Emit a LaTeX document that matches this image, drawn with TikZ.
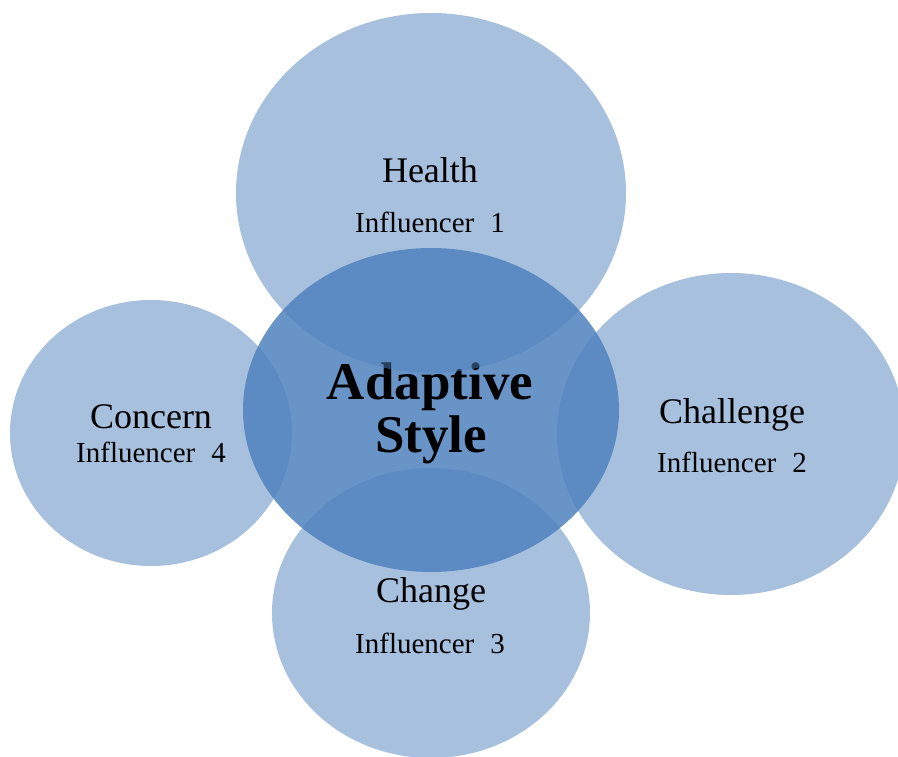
\documentclass[tikz,border=0pt]{standalone}
\usepackage{fontspec}
\setmainfont{Liberation Serif}
\usetikzlibrary{shapes.geometric}
\definecolor{officeblue}{HTML}{4F81BD}
\tikzset{
  outerell/.style={ellipse, fill=officeblue, fill opacity=0.5, draw=none, inner sep=0pt},
  centerell/.style={ellipse, fill=officeblue, fill opacity=0.85, draw=none, inner sep=0pt},
  mainlabel/.style={anchor=base, inner sep=0pt, font=\fontsize{36}{43}\selectfont},
  sublabel/.style={anchor=base, inner sep=0pt, font=\fontsize{29}{35}\selectfont},
  centerlabel/.style={anchor=base, inner sep=0pt, font=\fontsize{53}{53}\selectfont\bfseries}
}
\begin{document}
\begin{tikzpicture}[x=1pt,y=-1pt]
\useasboundingbox (0,0) rectangle (898,757);
% center ellipse
\node[centerell, minimum width=376pt, minimum height=324pt] (core) at (431,410) {};
\node[centerlabel] (adaptive) at (430,399) {Adaptive};
\node[centerlabel] (style) at (431,452) {Style};
% outer ellipses
\node[outerell, minimum width=390pt, minimum height=360pt] (health) at (431,193) {};
\node[outerell, minimum width=348pt, minimum height=322pt] (challenge) at (731,434) {};
\node[outerell, minimum width=318pt, minimum height=290pt] (change) at (431,613) {};
\node[outerell, minimum width=282pt, minimum height=266pt] (concern) at (151,433) {};
% labels
\node[mainlabel] (healthT) at (430,183) {Health};
\node[sublabel] (healthS) at (430,233) {Influencer\hspace{0.3em} 1};
\node[mainlabel] (challengeT) at (732,423) {Challenge};
\node[sublabel] (challengeS) at (732,472) {Influencer\hspace{0.3em} 2};
\node[mainlabel] (changeT) at (431,602) {Change};
\node[sublabel] (changeS) at (430,653) {Influencer\hspace{0.3em} 3};
\node[mainlabel] (concernT) at (151,428) {Concern};
\node[sublabel] (concernS) at (151,462) {Influencer\hspace{0.3em} 4};
\end{tikzpicture}
\end{document}
